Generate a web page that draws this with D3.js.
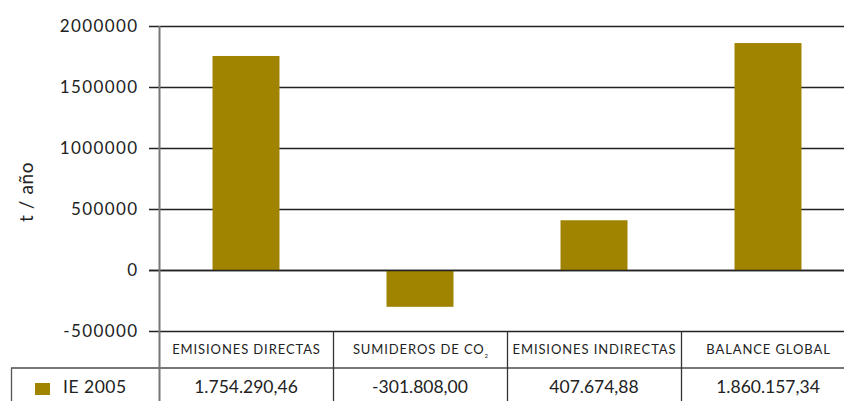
<!DOCTYPE html>
<html>
<head>
<meta charset="utf-8">
<script src="https://cdn.jsdelivr.net/npm/d3@7"></script>
<style>
  body { margin: 0; background: #fff; }
  text { font-family: Lato, "DejaVu Sans", sans-serif; fill: #222; }
</style>
</head>
<body>
<div id="chart"></div>
<script>
// chart data
const categories = ["EMISIONES DIRECTAS", "SUMIDEROS DE CO", "EMISIONES INDIRECTAS", "BALANCE GLOBAL"];
const values = [1754290.46, -301808.00, 407674.88, 1860157.34];
const valueLabels = ["1.754.290,46", "-301.808,00", "407.674,88", "1.860.157,34"];
const yTicks = [-500000, 0, 500000, 1000000, 1500000, 2000000];
const seriesName = "IE 2005";

const width = 844, height = 401;
const barColor = "#a08400";

var svg = d3.select("#chart")
    .append("svg")
    .attr("width", width)
    .attr("height", height);

// X scale: one table column per category
var x = d3.scaleBand()
    .domain(categories)
    .range([159, 855])
    .padding(0);

var y = d3.scaleLinear()
    .domain([-500000, 2000000])
    .range([331, 26]);

// gridlines
svg.append("g")
    .selectAll("line")
    .data(yTicks)
    .enter()
    .append("line")
    .attr("x1", 149)
    .attr("x2", width)
    .attr("y1", d => Math.round(y(d)) + 0.5)
    .attr("y2", d => Math.round(y(d)) + 0.5)
    .attr("stroke", "#222")
    .attr("stroke-width", 1.3);

// y tick labels
svg.append("g")
    .selectAll("text")
    .data(yTicks)
    .enter()
    .append("text")
    .attr("x", 138.5)
    .attr("y", d => y(d))
    .attr("dy", "0.35em")
    .attr("text-anchor", "end")
    .style("font-size", "17px")
    .style("letter-spacing", "1.4px")
    .text(d => d);

// y title
svg.append("text")
    .attr("transform", "translate(33,192)rotate(-90)")
    .attr("text-anchor", "middle")
    .style("font-size", "19px")
    .style("letter-spacing", "0.6px")
    .text("t / año");

// bars
var barW = x.bandwidth() * 0.385;
svg.selectAll("rect.bar")
    .data(values)
    .enter()
    .append("rect")
    .attr("class", "bar")
    .attr("x", (d, i) => x(categories[i]) + (x.bandwidth() - barW) / 2)
    .attr("y", d => y(Math.max(0, d)))
    .attr("width", barW)
    .attr("height", d => Math.abs(y(d) - y(0)))
    .attr("fill", barColor);

// zero line on top of bars
svg.append("line")
    .attr("x1", 149).attr("x2", width)
    .attr("y1", Math.round(y(0)) + 0.5).attr("y2", Math.round(y(0)) + 0.5)
    .attr("stroke", "#222")
    .attr("stroke-width", 1.3);

// y axis line
svg.append("line")
    .attr("x1", 159.5).attr("x2", 159.5)
    .attr("y1", y(2000000)).attr("y2", height)
    .attr("stroke", "#777")
    .attr("stroke-width", 2);

// data table
var headTop = y(-500000), headBottom = 368;

svg.append("line")
    .attr("x1", 11).attr("x2", width)
    .attr("y1", headBottom).attr("y2", headBottom)
    .attr("stroke", "#777")
    .attr("stroke-width", 2);

svg.append("line")
    .attr("x1", 11.5).attr("x2", 11.5)
    .attr("y1", headBottom).attr("y2", height)
    .attr("stroke", "#555")
    .attr("stroke-width", 1.3);

svg.append("g")
    .selectAll("line")
    .data(categories.slice(1))
    .enter()
    .append("line")
    .attr("x1", d => x(d) + 0.5)
    .attr("x2", d => x(d) + 0.5)
    .attr("y1", headTop)
    .attr("y2", height)
    .attr("stroke", "#333")
    .attr("stroke-width", 1.3);

// header labels
var heads = svg.append("g")
    .selectAll("text")
    .data(categories)
    .enter()
    .append("text")
    .attr("x", d => x(d) + x.bandwidth() / 2 + 0.5)
    .attr("y", 353.5)
    .attr("text-anchor", "middle")
    .style("font-size", "13px")
    .style("letter-spacing", "0.9px")
    .text(d => d);

heads.filter(d => d === "SUMIDEROS DE CO")
    .append("tspan")
    .attr("dy", 4)
    .style("font-size", "6px")
    .style("letter-spacing", "0px")
    .text("2");

// value row
svg.append("g")
    .selectAll("text")
    .data(valueLabels)
    .enter()
    .append("text")
    .attr("x", (d, i) => x(categories[i]) + x.bandwidth() / 2)
    .attr("y", 393)
    .attr("text-anchor", "middle")
    .style("font-size", "17.5px")
    .text(d => d);

// legend key
svg.append("rect")
    .attr("x", 35).attr("y", 383)
    .attr("width", 15).attr("height", 12)
    .attr("fill", barColor);

svg.append("text")
    .attr("x", 63).attr("y", 393)
    .style("font-size", "17.5px")
    .style("letter-spacing", "0.5px")
    .text(seriesName);
</script>
</body>
</html>
